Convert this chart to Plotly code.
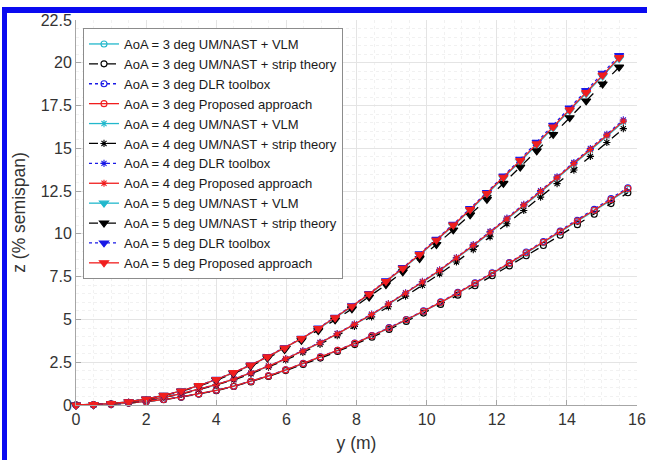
import plotly.graph_objects as go

# ---------------- data ----------------
# spanwise positions of the nodes, y (m)
Y_AOA3 = [0, 0.50, 1.00, 1.50, 2.00, 2.50, 3.00, 3.50, 4.00, 4.50, 4.99, 5.49, 5.98, 6.48, 6.97, 7.46,
          7.95, 8.44, 8.93, 9.42, 9.91, 10.40, 10.89, 11.38, 11.87, 12.36, 12.84, 13.33, 13.81, 14.30,
          14.78, 15.26, 15.74]
Y_AOA4 = [0, 0.50, 1.00, 1.50, 2.00, 2.50, 3.00, 3.50, 4.00, 4.50, 4.99, 5.49, 5.98, 6.47, 6.96, 7.45,
          7.94, 8.43, 8.91, 9.40, 9.88, 10.37, 10.85, 11.33, 11.81, 12.29, 12.77, 13.25, 13.72, 14.20,
          14.67, 15.14, 15.61]
Y_AOA5 = [0, 0.50, 1.00, 1.50, 2.00, 2.50, 3.00, 3.50, 4.00, 4.49, 4.98, 5.46, 5.95, 6.43, 6.91, 7.39,
          7.87, 8.36, 8.84, 9.32, 9.80, 10.28, 10.76, 11.24, 11.72, 12.19, 12.67, 13.14, 13.61, 14.08,
          14.55, 15.02, 15.49]

# vertical displacement z (% semispan)
Z3_VLM = [0, 0.01, 0.05, 0.11, 0.20, 0.32, 0.47, 0.65, 0.86, 1.10, 1.38, 1.69, 2.04, 2.41, 2.79, 3.18,
          3.59, 4.03, 4.49, 4.96, 5.46, 5.98, 6.53, 7.09, 7.68, 8.26, 8.87, 9.48, 10.09, 10.72, 11.35,
          11.97, 12.61]
Z3_STRIP = [0, 0.01, 0.05, 0.11, 0.20, 0.31, 0.46, 0.64, 0.84, 1.08, 1.35, 1.67, 2.01, 2.37, 2.74, 3.13,
            3.53, 3.96, 4.41, 4.88, 5.37, 5.88, 6.42, 6.97, 7.55, 8.13, 8.72, 9.32, 9.92, 10.54, 11.15,
            11.77, 12.40]
Z3_DLR = [0, 0.01, 0.05, 0.11, 0.20, 0.32, 0.47, 0.65, 0.86, 1.10, 1.39, 1.71, 2.06, 2.43, 2.81, 3.20,
          3.62, 4.06, 4.52, 5.00, 5.50, 6.03, 6.58, 7.14, 7.73, 8.32, 8.94, 9.55, 10.16, 10.79, 11.43,
          12.06, 12.70]
Z3_PROP = [0, 0.01, 0.05, 0.11, 0.20, 0.32, 0.47, 0.65, 0.86, 1.10, 1.38, 1.70, 2.05, 2.42, 2.80, 3.19,
           3.60, 4.04, 4.50, 4.98, 5.48, 6.00, 6.55, 7.11, 7.70, 8.29, 8.90, 9.51, 10.12, 10.75, 11.38,
           12.01, 12.65]

Z4_VLM = [0, 0.02, 0.07, 0.15, 0.28, 0.45, 0.66, 0.91, 1.19, 1.50, 1.86, 2.26, 2.69, 3.14, 3.63, 4.15,
          4.70, 5.27, 5.88, 6.51, 7.17, 7.85, 8.56, 9.30, 10.07, 10.85, 11.64, 12.44, 13.25, 14.07, 14.89,
          15.71, 16.54]
Z4_STRIP = [0, 0.02, 0.07, 0.15, 0.27, 0.44, 0.64, 0.89, 1.16, 1.47, 1.82, 2.21, 2.63, 3.07, 3.54, 4.05,
            4.59, 5.15, 5.74, 6.36, 7.00, 7.66, 8.36, 9.08, 9.83, 10.59, 11.37, 12.15, 12.94, 13.73, 14.53,
            15.34, 16.15]
Z4_DLR = [0, 0.02, 0.07, 0.15, 0.28, 0.45, 0.66, 0.91, 1.20, 1.52, 1.88, 2.28, 2.71, 3.17, 3.66, 4.18,
          4.73, 5.31, 5.92, 6.56, 7.22, 7.90, 8.62, 9.37, 10.14, 10.92, 11.72, 12.53, 13.34, 14.17, 14.99,
          15.82, 16.66]
Z4_PROP = [0, 0.02, 0.07, 0.15, 0.28, 0.45, 0.66, 0.91, 1.19, 1.51, 1.87, 2.27, 2.70, 3.15, 3.64, 4.16,
           4.71, 5.29, 5.90, 6.53, 7.19, 7.87, 8.59, 9.33, 10.10, 10.88, 11.68, 12.48, 13.29, 14.11, 14.93,
           15.76, 16.59]

Z5_VLM = [0, 0.02, 0.08, 0.19, 0.35, 0.56, 0.82, 1.13, 1.48, 1.88, 2.32, 2.80, 3.32, 3.87, 4.45, 5.08,
          5.75, 6.46, 7.20, 7.96, 8.76, 9.60, 10.47, 11.38, 12.32, 13.27, 14.23, 15.21, 16.20, 17.20, 18.20,
          19.22, 20.24]
Z5_STRIP = [0, 0.02, 0.08, 0.19, 0.34, 0.55, 0.80, 1.10, 1.45, 1.84, 2.27, 2.74, 3.24, 3.78, 4.35, 4.97,
            5.62, 6.31, 7.03, 7.78, 8.56, 9.38, 10.23, 11.11, 12.02, 12.95, 13.90, 14.85, 15.81, 16.79,
            17.77, 18.76, 19.75]
Z5_DLR = [0, 0.02, 0.08, 0.19, 0.35, 0.56, 0.82, 1.14, 1.50, 1.90, 2.34, 2.83, 3.35, 3.90, 4.49, 5.13,
          5.80, 6.51, 7.26, 8.03, 8.84, 9.68, 10.56, 11.48, 12.42, 13.38, 14.36, 15.35, 16.34, 17.35, 18.37,
          19.39, 20.42]
Z5_PROP = [0, 0.02, 0.08, 0.19, 0.35, 0.56, 0.82, 1.13, 1.49, 1.89, 2.33, 2.81, 3.33, 3.88, 4.47, 5.10,
           5.77, 6.48, 7.22, 7.99, 8.79, 9.63, 10.51, 11.42, 12.36, 13.31, 14.28, 15.26, 16.25, 17.25, 18.26,
           19.28, 20.30]

AOAS = [3, 4, 5]
METHODS = ["UM/NAST + VLM", "UM/NAST + strip theory", "DLR toolbox", "Proposed approach"]
X_TICKS = [0, 2, 4, 6, 8, 10, 12, 14, 16]
Y_TICKS = [0, 2.5, 5, 7.5, 10, 12.5, 15, 17.5, 20, 22.5]
Y_TICK_TEXT = ["0", "2.5", "5", "7.5", "10", "12.5", "15", "17.5", "20", "22.5"]

SERIES = {
    3: (Y_AOA3, [Z3_VLM, Z3_STRIP, Z3_DLR, Z3_PROP]),
    4: (Y_AOA4, [Z4_VLM, Z4_STRIP, Z4_DLR, Z4_PROP]),
    5: (Y_AOA5, [Z5_VLM, Z5_STRIP, Z5_DLR, Z5_PROP]),
}

# ---------------- styles ----------------
COLORS = ["#22B8CC", "#000000", "#1A1AE6", "#F01E1E"]
DASHES = ["solid", "dash", "dot", "solid"]
MARKERS = {3: "circle-open", 4: "asterisk-open", 5: "triangle-down"}
MSIZE = {3: 6, 4: 6, 5: 8}

FONT = "Liberation Sans, Arial, sans-serif"

fig = go.Figure()
for aoa in AOAS:
    xs, zlist = SERIES[aoa]
    for k, (meth, z) in enumerate(zip(METHODS, zlist)):
        fig.add_trace(go.Scatter(
            x=xs, y=z, mode="lines+markers",
            name=f"AoA = {aoa} deg {meth}",
            line=dict(color=COLORS[k], width=1.3, dash=DASHES[k]),
            marker=dict(symbol=MARKERS[aoa], size=MSIZE[aoa], color=COLORS[k],
                        line=dict(color=COLORS[k], width=1.1)),
            cliponaxis=False,
        ))

# plot area in pixels: x 76..637, y 20..405
L, R, T, B = 76, 10, 20, 55
W, H = 647, 460
pw, ph = W - L - R, H - T - B


def px2paper_x(px):
    return (px - L) / pw


def px2paper_y(py):
    return (H - B - py) / ph


# blue frame (top and left bands) of the original picture
fig.add_shape(type="rect", xref="paper", yref="paper",
              x0=px2paper_x(2), x1=px2paper_x(660), y0=px2paper_y(13), y1=px2paper_y(7),
              fillcolor="#0A0AF0", line=dict(width=0), layer="above")
fig.add_shape(type="rect", xref="paper", yref="paper",
              x0=px2paper_x(2), x1=px2paper_x(7), y0=px2paper_y(470), y1=px2paper_y(7),
              fillcolor="#0A0AF0", line=dict(width=0), layer="above")

axis_common = dict(
    showline=True, linecolor="#a6a6a6", linewidth=1,
    ticks="inside", ticklen=5, tickcolor="#a6a6a6",
    showgrid=True, gridcolor="#e4e4e4", gridwidth=1,
    zeroline=False,
    tickfont=dict(family=FONT, size=16, color="#333333"),
    title_font=dict(family=FONT, size=17.5, color="#333333"),
)

fig.update_xaxes(
    range=[0, 16], tickvals=X_TICKS, ticktext=[str(v) for v in X_TICKS],
    title_text="y (m)", title_standoff=9, ticklabeloverflow="allow",
    minor=dict(dtick=0.5, showgrid=True, gridcolor="#f1f1f1", griddash="dot", ticks=""),
    **axis_common,
)
fig.update_yaxes(
    range=[0, 22.5], tickvals=Y_TICKS, ticktext=Y_TICK_TEXT,
    title_text="z (% semispan)", title_standoff=10,
    minor=dict(dtick=0.5, showgrid=True, gridcolor="#f1f1f1", griddash="dot", ticks=""),
    **axis_common,
)

fig.update_layout(
    width=W, height=H,
    margin=dict(l=L, r=R, t=T, b=B, autoexpand=False),
    paper_bgcolor="white", plot_bgcolor="white",
    font=dict(family=FONT, color="#262626"),
    legend=dict(
        x=px2paper_x(83), y=px2paper_y(28), xanchor="left", yanchor="top",
        bgcolor="white", bordercolor="#8c8c8c", borderwidth=1,
        font=dict(family=FONT, size=13, color="#1a1a1a"),
        itemwidth=30, tracegroupgap=0,
    ),
    showlegend=True,
)

# the page's default 8px body margin would shift the chart; remove it
fig.write_html("out.html", config={"displayModeBar": False},
               post_script="document.body.style.margin='0px';")
